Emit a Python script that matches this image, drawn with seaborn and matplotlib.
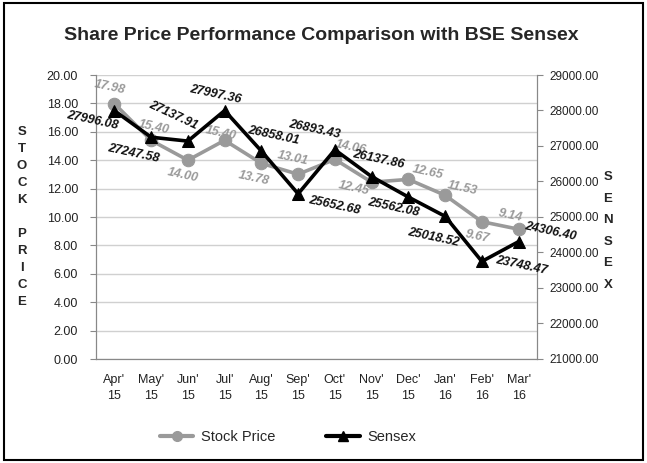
import matplotlib
matplotlib.use("Agg")
import matplotlib.pyplot as plt
import seaborn as sns
import pandas as pd
import numpy as np
from matplotlib.patches import Rectangle
from matplotlib.lines import Line2D

months = ["Apr'\n15", "May'\n15", "Jun'\n15", "Jul'\n15", "Aug'\n15", "Sep'\n15",
          "Oct'\n15", "Nov'\n15", "Dec'\n15", "Jan'\n16", "Feb'\n16", "Mar'\n16"]
stock_price = [17.98, 15.40, 14.00, 15.40, 13.78, 13.01, 14.06, 12.45, 12.65, 11.53, 9.67, 9.14]
sensex = [27996.08, 27247.58, 27137.91, 27997.36, 26858.01, 25652.68,
          26893.43, 26137.86, 25562.08, 25018.52, 23748.47, 24306.40]

# label offsets in pixels (dx, dy with y pointing up)
stock_offsets = [(-5, 16), (3, 13), (-5, -15), (-4, 7), (-8, -15), (-5, 16),
                 (16, 12), (-18, -6), (19, 7), (17, 7), (-5, -15), (-8, 14)]
sensex_offsets = [(-22, -10), (-18, -16), (-15, 26), (-9, 16), (12, 16), (36, -12),
                  (-20, 20), (7, 17), (-15, -10), (-12, -21), (40, -4), (32, 10)]
sensex_rot = [-12, -12, -25, -12, -12, -12, -12, -12, -12, -12, -12, -12]

sns.set_style("white")
plt.rcParams["font.family"] = ["Liberation Sans", "DejaVu Sans"]

df = pd.DataFrame({"idx": np.arange(len(months)), "stock": stock_price, "sensex": sensex})

fig = plt.figure(figsize=(6.47, 4.63), dpi=100)
ax = fig.add_axes([96 / 647, (463 - 359) / 463, (537 - 96) / 647, (359 - 75) / 463])
ax2 = ax.twinx()

grey = "#9a9a9a"
sns.lineplot(data=df, x="idx", y="stock", ax=ax, color=grey, lw=2.6, marker="o",
             markersize=9, markeredgecolor=grey, zorder=3)
sns.lineplot(data=df, x="idx", y="sensex", ax=ax2, color="black", lw=2.6, marker="^",
             markersize=9, markeredgecolor="black", zorder=4)

ax.set_xlim(-0.5, 11.5)
ax.set_ylim(0, 20)
ax2.set_ylim(21000, 29000)
ax.set_yticks(np.arange(0, 21, 2))
ax.set_yticklabels([f"{v:.2f}" for v in np.arange(0, 21, 2)])
ax2.set_yticks(np.arange(21000, 29001, 1000))
ax2.set_yticklabels([f"{v:.2f}" for v in np.arange(21000, 29001, 1000)])
ax.set_xticks(np.arange(12))
ax.set_xticklabels(months, linespacing=1.45)
ax.set_xticks(np.arange(-0.5, 12, 1), minor=True)
ax.tick_params(axis="x", which="major", length=0, pad=11, labelsize=9, colors="#222222")
ax.tick_params(axis="x", which="minor", length=4, color="#888888")
ax.tick_params(axis="y", length=4, color="#888888", labelsize=9, labelcolor="#222222", pad=9)
ax2.tick_params(axis="y", length=4, color="#888888", labelsize=8.5, labelcolor="#222222", pad=5)
ax.grid(axis="y", color="#d0d0d0", lw=1)
ax.set_xlabel("")
ax.set_ylabel("")
ax2.set_ylabel("")
for a in (ax, ax2):
    a.spines["top"].set_visible(False)
    for s in ("left", "right", "bottom"):
        a.spines[s].set_color("#888888")
ax.set_zorder(ax2.get_zorder() - 1)
ax.patch.set_visible(True)
ax2.patch.set_visible(False)

px = 72 / 100
for i, v in enumerate(stock_price):
    dx, dy = stock_offsets[i]
    ax.annotate(f"{v:.2f}", (i, v), xytext=(dx * px, dy * px), textcoords="offset points",
                ha="center", va="center", color=grey, fontsize=9, fontweight="bold",
                fontstyle="italic", rotation=-12, zorder=5)
for i, v in enumerate(sensex):
    dx, dy = sensex_offsets[i]
    ax2.annotate(f"{v:.2f}", (i, v), xytext=(dx * px, dy * px), textcoords="offset points",
                 ha="center", va="center", color="#111111", fontsize=9, fontweight="bold",
                 fontstyle="italic", rotation=sensex_rot[i], zorder=6)

fig.text(0.497, 1 - 35 / 463, "Share Price Performance Comparison with BSE Sensex",
         ha="center", va="center", fontsize=14, fontweight="bold")
fig.text(22 / 647, 1 - 217 / 463, "S\nT\nO\nC\nK\n\nP\nR\nI\nC\nE", ha="center", va="center",
         fontsize=9.5, fontweight="bold", linespacing=1.55)
fig.text(608 / 647, 1 - 231 / 463, "S\nE\nN\nS\nE\nX", ha="center", va="center",
         fontsize=9.5, fontweight="bold", linespacing=2.05)

handles = [Line2D([], [], color=grey, lw=3, marker="o", markersize=7),
           Line2D([], [], color="black", lw=3, marker="^", markersize=7)]
fig.legend(handles, ["Stock Price", "Sensex"], loc="center", bbox_to_anchor=(0.445, 1 - 437 / 463),
           ncol=2, frameon=False, fontsize=10.5, columnspacing=3.5, handlelength=2.3,
           handletextpad=0.5)

fig.add_artist(Rectangle((0.006, 0.006), 0.988, 0.988, transform=fig.transFigure,
                         fill=False, edgecolor="black", lw=1.5))

fig.savefig("out.png", dpi=100)
